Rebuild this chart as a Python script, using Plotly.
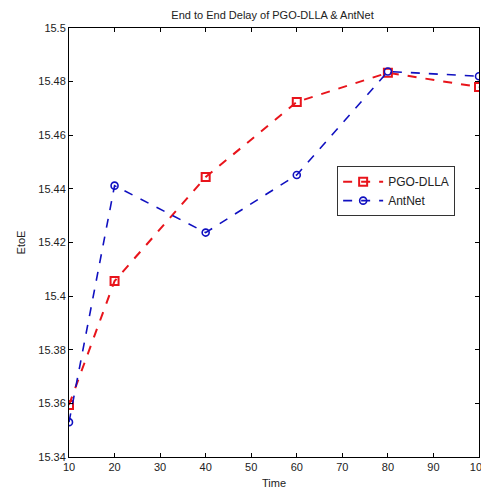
import plotly.graph_objects as go

time = [10, 20, 40, 60, 80, 100]
pgo_dlla = [15.3594, 15.4056, 15.4444, 15.4724, 15.4833, 15.4780]
antnet = [15.3530, 15.4412, 15.4237, 15.4452, 15.4838, 15.4820]

x_ticks = [10, 20, 30, 40, 50, 60, 70, 80, 90, 100]
y_ticks = [15.34, 15.36, 15.38, 15.40, 15.42, 15.44, 15.46, 15.48, 15.50]
y_labels = ["15.34", "15.36", "15.38", "15.4", "15.42", "15.44", "15.46", "15.48", "15.5"]

FONT = "Liberation Sans, Arial, sans-serif"

fig = go.Figure()
fig.add_trace(go.Scatter(
    x=time, y=pgo_dlla, name="PGO-DLLA", mode="lines+markers",
    line=dict(color="#e8141b", width=2, dash="dash"),
    marker=dict(symbol="square-open", size=8, color="#e8141b", line=dict(width=2)),
))
fig.add_trace(go.Scatter(
    x=time, y=antnet, name="AntNet", mode="lines+markers",
    line=dict(color="#1010c0", width=1.6, dash="dash"),
    marker=dict(symbol="circle-open", size=7, color="#1010c0", line=dict(width=1.6)),
))

axis_common = dict(
    showgrid=False, zeroline=False, showline=True, linecolor="black", linewidth=1,
    mirror="ticks", ticks="inside", ticklen=4, tickcolor="black", automargin=False,
    tickfont=dict(family=FONT, size=11, color="#222"),
)

fig.update_layout(
    width=481, height=480,
    paper_bgcolor="white", plot_bgcolor="white",
    margin=dict(l=61, r=10, t=20, b=31, autoexpand=False),
    title=dict(text="End to End Delay of PGO-DLLA & AntNet", x=0.55, xanchor="center",
               y=0.994, yanchor="top", automargin=False,
               font=dict(family=FONT, size=11, color="#222")),
    xaxis=dict(range=[10, 100], tickvals=x_ticks, **axis_common),
    yaxis=dict(range=[15.34, 15.5], tickvals=y_ticks, ticktext=y_labels,
               title=dict(text="EtoE", standoff=10,
                          font=dict(family=FONT, size=11, color="#222")),
               **axis_common),
    legend=dict(x=0.654, y=0.678, xanchor="left", yanchor="top",
                bgcolor="white", bordercolor="#333", borderwidth=1,
                font=dict(family=FONT, size=12, color="#222"),
                tracegroupgap=0, itemwidth=40),
    showlegend=True,
)
fig.add_annotation(text="Time", xref="paper", yref="paper", x=0.5, y=0,
                   xanchor="center", yanchor="top", yshift=-18, showarrow=False,
                   font=dict(family=FONT, size=11, color="#222"))

fig.write_html("out.html")
